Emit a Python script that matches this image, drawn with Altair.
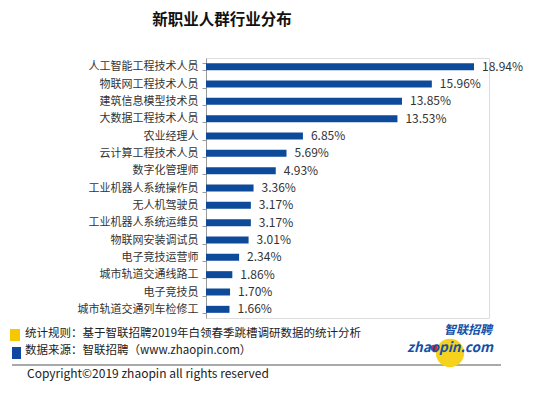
import altair as alt
import pandas as pd

categories = ["人工智能工程技术人员", "物联网工程技术人员", "建筑信息模型技术员", "大数据工程技术人员",
              "农业经理人", "云计算工程技术人员", "数字化管理师", "工业机器人系统操作员",
              "无人机驾驶员", "工业机器人系统运维员", "物联网安装调试员", "电子竞技运营师",
              "城市轨道交通线路工", "电子竞技员", "城市轨道交通列车检修工"]
values = [18.94, 15.96, 13.85, 13.53, 6.85, 5.69, 4.93, 3.36, 3.17, 3.17, 3.01, 2.34, 1.86, 1.70, 1.66]

title_text = "新职业人群行业分布"
note1 = "统计规则：基于智联招聘2019年白领春季跳槽调研数据的统计分析"
note2 = "数据来源：智联招聘（www.zhaopin.com）"
copyright_text = "Copyright©2019 zhaopin all rights reserved"

FONT = "Noto Sans CJK SC"
BLUE = "#0E4A9A"
YELLOW = "#F6C800"

df = pd.DataFrame({"cat": categories, "val": values})
df["label"] = [f"{v:.2f}%" for v in values]

# plot origin on page is (206, 58)
OX, OY = 206, 58

base = alt.Chart(df)
y_enc = alt.Y("cat:N", sort=categories, title=None,
              scale=alt.Scale(paddingInner=0.58, paddingOuter=0.29),
              axis=alt.Axis(labelFont=FONT, labelFontSize=11, labelColor="#333333",
                            domainColor="#9a9a9a", tickColor="#9a9a9a", tickSize=4,
                            tickBand="extent", labelPadding=4, grid=False))
x_enc = alt.X("val:Q", scale=alt.Scale(domain=[0, 20]), axis=None)

bars = base.mark_bar(size=7, color=BLUE).encode(x=x_enc, y=y_enc)
labels = base.mark_text(align="left", dx=8, font=FONT, fontSize=12, color="#333333").encode(
    x=x_enc, y=alt.Y("cat:N", sort=categories), text="label:N")


def txt(t, px, py, size=11.5, color="#222222", weight="normal", align="left", style="normal"):
    return alt.Chart(pd.DataFrame({"t": [t]})).mark_text(
        align=align, baseline="middle", font=FONT, fontSize=size, color=color,
        fontWeight=weight, fontStyle=style).encode(
        x=alt.value(px - OX), y=alt.value(py - OY), text="t:N")


def rect(x1, y1, x2, y2, color):
    return alt.Chart(pd.DataFrame({"a": [0]})).mark_rect(color=color).encode(
        x=alt.value(x1 - OX), x2=alt.value(x2 - OX), y=alt.value(y1 - OY), y2=alt.value(y2 - OY))


def dot(px, py, size, color):
    return alt.Chart(pd.DataFrame({"a": [0]})).mark_point(
        filled=True, color=color, opacity=1, size=size, shape="circle").encode(
        x=alt.value(px - OX), y=alt.value(py - OY))


title = txt(title_text, 222, 20, size=15.5, color="#111111", weight="bold", align="center")
sq1 = rect(10, 329, 20, 341, YELLOW)
sq2 = rect(12, 347, 21, 359, "#1048A0")
n1 = txt(note1, 25, 334, size=11.5)
n2 = txt(note2, 25, 351, size=11.5)
hline = alt.Chart(pd.DataFrame({"a": [0]})).mark_rule(color="#555555", strokeWidth=1).encode(
    x=alt.value(12 - OX), x2=alt.value(501 - OX), y=alt.value(365 - OY))
copy = txt(copyright_text, 27, 374, size=12, color="#222222")

circle = dot(450, 353, 800, "#F6D21E")
reddot = dot(434, 348, 45, "#D8262E")
logo1 = txt("智联招聘", 468, 330, size=12, color="#1350A8", weight="bold", align="center", style="italic")
logo2 = txt("zhaopin.com", 450, 348, size=13.5, color="#1350A8", weight="bold", align="center", style="italic")

chart = alt.layer(bars, labels, title, sq1, sq2, n1, n2, hline, copy, circle, reddot, logo2, logo1).properties(
    width=283, height=260,
    autosize=alt.AutoSizeParams(type="none"),
    padding={"left": 198, "top": 50, "right": 53, "bottom": 70},
).configure_view(stroke=None).configure(background="white")

chart.save("out.html", embed_options={"renderer": "svg", "actions": False})
